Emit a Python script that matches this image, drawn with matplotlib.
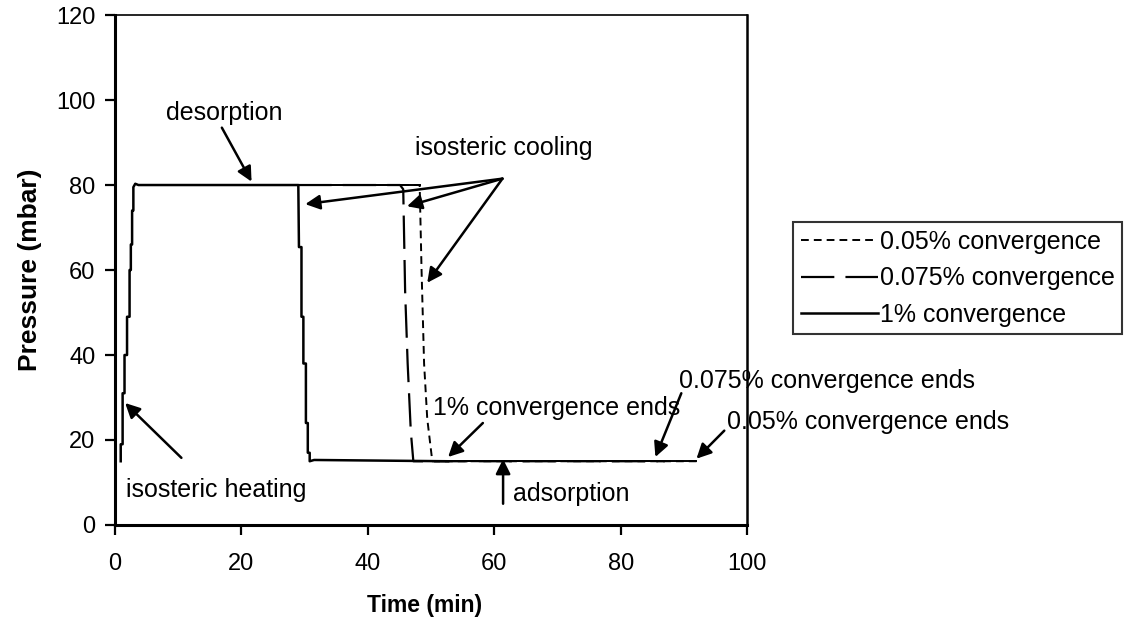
import numpy as np
import matplotlib.pyplot as plt

plt.rcParams['font.family'] = ['Liberation Sans', 'DejaVu Sans']

# 1% convergence (solid) - heating ramp, desorption, cooling, adsorption
t_1 = [0.9, 0.9, 1.2, 1.2, 1.5, 1.5, 1.9, 1.9, 2.3, 2.3, 2.5, 2.5, 2.7, 2.7, 2.9, 2.9, 3.2, 3.7,
       29.0, 29.1, 29.5, 29.5, 29.8, 29.8, 30.2, 30.2, 30.5, 30.5, 30.8, 30.8, 31.5, 52.7]
p_1 = [15, 19, 19, 31, 31, 40, 40, 49, 49, 60, 60, 66, 66, 74, 74, 79.5, 80.3, 80,
       80, 65.4, 65.4, 49, 49, 38, 38, 24, 24, 17, 17, 15, 15.3, 15]

# 0.075% convergence (long dash)
t_0075 = [29.0, 45.1, 45.6, 45.9, 46.3, 46.8, 47.2, 87.0]
p_0075 = [80, 80, 79, 55, 38, 22, 15, 15]

# 0.05% convergence (short dash)
t_005 = [29.0, 48.2, 48.5, 48.9, 49.4, 50.2, 92.0]
p_005 = [80, 80, 60, 38, 25, 15, 15]

labels = ['0.05% convergence', '0.075% convergence', '1% convergence']
x_ticks = [0, 20, 40, 60, 80, 100]
y_ticks = [0, 20, 40, 60, 80, 100, 120]

fig = plt.figure(figsize=(11.3, 6.27), dpi=100)
ax = fig.add_axes([0.1018, 0.1627, 0.5593, 0.8133])

# dashed drops; the flat parts of these series look solid in the original
l005, = ax.plot(t_005, p_005, color='black', lw=1.4, linestyle=(0, (4, 2.6)))
ax.plot(t_005[:2], p_005[:2], color='black', lw=1.4)
ax.plot(t_005[-2:], p_005[-2:], color='black', lw=1.4)

l0075, = ax.plot(t_0075, p_0075, color='black', lw=1.6, linestyle=(0, (15, 5)))
ax.plot(t_0075[:2], p_0075[:2], color='black', lw=1.4)
ax.plot(t_0075[-2:], p_0075[-2:], color='black', lw=1.4)

l1, = ax.plot(t_1, p_1, color='black', lw=1.8)

ax.set_xlim(0, 100)
ax.set_ylim(0, 120)
ax.set_xticks(x_ticks)
ax.set_yticks(y_ticks)
ax.tick_params(direction='out', length=7, width=1.6, labelsize=17)
ax.tick_params(axis='x', pad=13)
ax.tick_params(axis='y', pad=7)
for side, w in [('left', 2.2), ('bottom', 2.2), ('right', 1.8), ('top', 1.2)]:
    ax.spines[side].set_linewidth(w)

ax.set_xlabel('Time (min)', fontsize=16.5, fontweight='bold', ha='center', va='center')
ax.xaxis.set_label_coords(0.49, -0.157)
ax.set_ylabel('Pressure (mbar)', fontsize=19, fontweight='bold', ha='center', va='center')
ax.yaxis.set_label_coords(-0.134, 0.5)

arrow = dict(arrowstyle='-|>', color='black', lw=1.8, mutation_scale=22, shrinkA=0, shrinkB=0)
fs = 18

ax.text(17.3, 97.0, 'desorption', fontsize=fs, ha='center', va='center')
ax.annotate('', xy=(21.6, 80.8), xytext=(16.9, 93.5), arrowprops=arrow)

ax.text(61.5, 88.7, 'isosteric cooling', fontsize=fs, ha='center', va='center')
ax.annotate('', xy=(30.1, 75.5), xytext=(61.3, 81.5), arrowprops=arrow)
ax.annotate('', xy=(46.2, 75.0), xytext=(61.3, 81.5), arrowprops=arrow)
ax.annotate('', xy=(49.4, 57.0), xytext=(61.3, 81.5), arrowprops=arrow)

ax.text(16.0, 8.3, 'isosteric heating', fontsize=fs, ha='center', va='center')
ax.annotate('', xy=(1.6, 28.7), xytext=(10.5, 15.8), arrowprops=arrow)

ax.text(69.8, 27.5, '1% convergence ends', fontsize=fs, ha='center', va='center')
ax.annotate('', xy=(52.7, 16.0), xytext=(58.2, 24.0), arrowprops=arrow)

ax.text(89.3, 34.0, '0.075% convergence ends', fontsize=fs, ha='left', va='center',
        clip_on=False)
ax.annotate('', xy=(85.5, 16.0), xytext=(89.6, 31.0), arrowprops=arrow,
            annotation_clip=False)

ax.text(96.8, 24.3, '0.05% convergence ends', fontsize=fs, ha='left', va='center',
        clip_on=False)
ax.annotate('', xy=(92.0, 15.6), xytext=(96.4, 22.2), arrowprops=arrow,
            annotation_clip=False)

ax.text(63.0, 7.3, 'adsorption', fontsize=fs, ha='left', va='center')
ax.annotate('', xy=(61.4, 15.5), xytext=(61.4, 5.0), arrowprops=arrow)

leg = fig.legend([l005, l0075, l1], labels,
                 loc='center left', bbox_to_anchor=(0.702, 0.556), fontsize=18,
                 frameon=True, fancybox=False, handlelength=3.1, handletextpad=0.05,
                 borderpad=0.3, labelspacing=0.5, borderaxespad=0)
leg.get_frame().set_edgecolor('black')
leg.get_frame().set_linewidth(1.5)

plt.savefig('out.png', dpi=100)
